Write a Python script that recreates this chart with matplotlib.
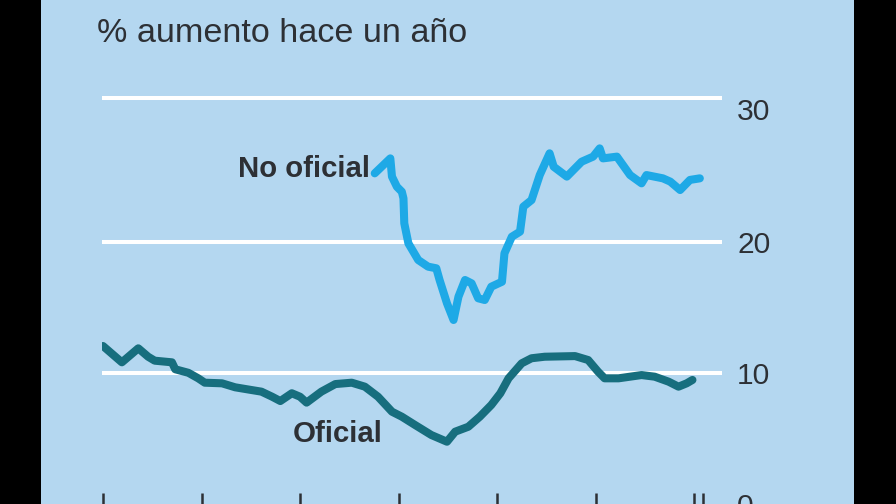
import numpy as np
import matplotlib.pyplot as plt
from matplotlib.patches import Rectangle

# months since the first tick
oficial_mes = [0, 2.3, 4.3, 5.5, 6.3, 8.4, 8.8, 10.4, 11.6, 12.4, 14.5, 16.1, 18.1, 19.3,
               20.6, 21.6, 23.0, 24.0, 24.8, 26.6, 28.3, 30.3, 31.9, 33.5, 35.2, 36.4,
               38.0, 40.0, 41.9, 42.9, 44.5, 45.9, 47.3, 48.4, 49.4, 51.0, 52.2, 53.8,
               57.5, 59.1, 60.3, 61.1, 62.8, 65.6, 67.2, 68.9, 70.1, 71.1, 71.8]
oficial = [12.15, 10.87, 11.97, 11.31, 11.0, 10.87, 10.32, 10.04, 9.60, 9.25, 9.20, 8.88,
           8.66, 8.53, 8.12, 7.77, 8.40, 8.12, 7.64, 8.53, 9.14, 9.25, 8.93, 8.12, 6.90,
           6.49, 5.81, 4.97, 4.41, 5.25, 5.66, 6.49, 7.45, 8.40, 9.60, 10.79, 11.19, 11.31,
           11.36, 11.05, 10.13, 9.60, 9.60, 9.86, 9.73, 9.33, 8.93, 9.20, 9.47]

no_oficial_mes = [33.1, 35.0, 35.2, 35.8, 36.4, 36.6, 36.7, 37.2, 38.4, 39.6, 40.6, 41.0,
                  41.9, 42.7, 43.3, 44.1, 44.9, 45.7, 46.5, 47.3, 48.6, 48.9, 49.8, 50.8,
                  51.2, 52.2, 53.2, 54.4, 54.9, 56.5, 58.3, 59.7, 60.5, 60.9, 62.6, 64.2,
                  65.6, 66.2, 68.2, 69.1, 70.3, 71.5, 72.7]
no_oficial = [24.87, 25.91, 24.64, 23.93, 23.58, 23.11, 21.33, 19.88, 18.66, 18.17, 18.05,
              17.18, 15.43, 14.16, 15.93, 17.18, 16.93, 15.81, 15.68, 16.68, 17.05, 19.15,
              20.36, 20.73, 22.52, 22.99, 24.75, 26.26, 25.33, 24.64, 25.68, 26.03, 26.60,
              25.91, 26.03, 24.75, 24.17, 24.75, 24.52, 24.29, 23.70, 24.41, 24.52]

ytick_vals = [0, 10, 20, 30]
ytick_labels = ["0", "10", "20", "30"]
xtick_mes = [0, 12, 24, 36, 48, 60, 72]

BG = "#b4d7f0"
DARK = "#2d3035"
C_OFICIAL = "#176e7e"
C_NO_OFICIAL = "#1ea9e6"

plt.rcParams["font.family"] = ["Liberation Sans", "DejaVu Sans"]

fig = plt.figure(figsize=(8.96, 5.04), dpi=100, facecolor="black")
fig.patches.append(Rectangle((41 / 896, 0), 813 / 896, 1, transform=fig.transFigure,
                             facecolor=BG, edgecolor="none", zorder=-1))

ax = fig.add_axes([102 / 896, 10.9 / 504, 620 / 896, 424.9 / 504])
ax.set_facecolor("none")

# the source picture is slightly stretched vertically, so use a mild quadratic scale
def fwd(v):
    return 11.39 * v + 0.059 * v ** 2

def inv(h):
    return (np.sqrt(np.clip(129.73 + 0.236 * h, 0, None)) - 11.39) / 0.118

ax.set_yscale("function", functions=(fwd, inv))
ax.set_ylim(0, 32)
ax.set_xlim(-0.12, 75.4)

ax.plot(oficial_mes, oficial, color=C_OFICIAL, lw=5.8, solid_capstyle="round",
        solid_joinstyle="round", zorder=3)
ax.plot(no_oficial_mes, no_oficial, color=C_NO_OFICIAL, lw=5.8, solid_capstyle="round",
        solid_joinstyle="round", zorder=3)

for s in ax.spines.values():
    s.set_visible(False)

ax.set_yticks(ytick_vals)
ax.set_yticklabels(ytick_labels)
ax.yaxis.tick_right()
ax.tick_params(axis="y", length=0, pad=10.8, labelsize=21.6, labelcolor=DARK)
ax.grid(axis="y", color="white", lw=2.9, zorder=1)
ax.yaxis.get_gridlines()[0].set_visible(False)
for lbl in ax.get_yticklabels():
    if lbl.get_text() in ("0", "30"):
        lbl.set_va("top")

ax.set_xticks(xtick_mes)
ax.set_xticks([73.1], minor=True)
ax.set_xticklabels([])
ax.tick_params(axis="x", which="both", direction="out", length=12, width=1.8,
               color=DARK, labelbottom=False)

fig.text(97 / 896, 1 - 42 / 504, "% aumento hace un año", fontsize=24.6, color=DARK,
         ha="left", va="baseline")
fig.text(370 / 896, 1 - 177 / 504, "No oficial", fontsize=21.2, fontweight="bold",
         color=DARK, ha="right", va="baseline")
fig.text(293 / 896, 1 - 442 / 504, "Oficial", fontsize=21.2, fontweight="bold",
         color=DARK, ha="left", va="baseline")

fig.savefig("out.png", dpi=100, facecolor=fig.get_facecolor())
